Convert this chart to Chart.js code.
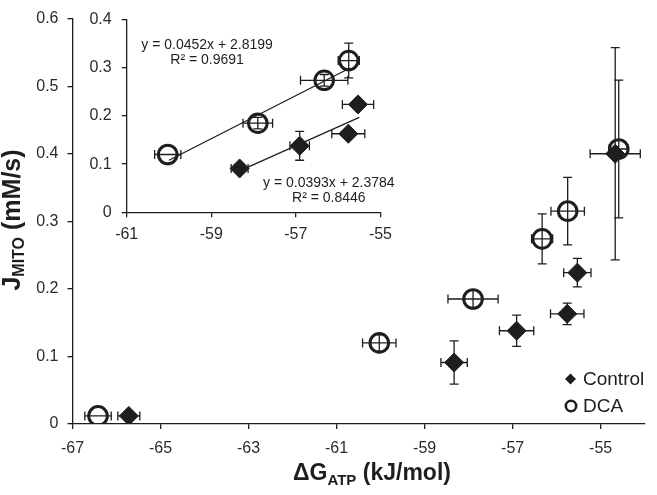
<!DOCTYPE html>
<html>
<head>
<meta charset="utf-8">
<script src="https://cdn.jsdelivr.net/npm/chart.js@4.4.1/dist/chart.umd.min.js"></script>
<style>
  html, body { margin: 0; padding: 0; background: #fff; }
  #wrap { position: relative; width: 657px; height: 495px; }
  #main, #inset { position: absolute; left: 0; top: 0; }
</style>
</head>
<body>
<div id="wrap">
  <canvas id="main" width="657" height="495"></canvas>
  <canvas id="inset" width="400" height="245"></canvas>
</div>
<script>
"use strict";

// tick labels
var xTicks = [-67, -65, -63, -61, -59, -57, -55];
var yTicks = [0, 0.1, 0.2, 0.3, 0.4, 0.5, 0.6];
var insetXTicks = [-61, -59, -57, -55];
var insetYTicks = [0, 0.1, 0.2, 0.3, 0.4];

// Control (filled diamonds)
var controlX = [-65.72, -58.33, -56.91, -55.76, -55.53, -54.67];
var controlY = [0.012, 0.091, 0.138, 0.163, 0.224, 0.400];
var controlXErr = [0.25, 0.30, 0.39, 0.38, 0.31, 0.57];
var controlYErr = [0, 0.032, 0.023, 0.016, 0.021, 0.157];

// DCA (open circles)
var dcaX = [-66.42, -60.03, -57.90, -56.33, -55.75, -54.59];
var dcaY = [0.012, 0.120, 0.185, 0.274, 0.315, 0.407];
var dcaXErr = [0.30, 0.38, 0.57, 0.24, 0.38, 0.22];
var dcaYErr = [0, 0.012, 0.013, 0.037, 0.050, 0.102];

// inset: middle four points of each group, with the error bars it shows
var insetControlXErr = [0.20, 0.23, 0.39, 0.37];
var insetControlYErr = [0, 0.030, 0, 0];
var insetDcaXErr = [0.31, 0.35, 0.56, 0.25];
var insetDcaYErr = [0, 0.012, 0.012, 0.036];

// fitted lines in the inset
var fitDcaX = [-60.0, -55.73];
var fitDcaY = [0.108, 0.299];
var fitControlX = [-58.33, -55.5];
var fitControlY = [0.086, 0.197];

var ink = '#1e1e1e';
Chart.defaults.font.family = '"Liberation Sans", Arial, sans-serif';
Chart.defaults.color = '#2b2b2b';

function points(xs, ys) {
	return xs.map((x, i) => ({x: x, y: ys[i]}));
}

function controlSet(xs, ys, ex, ey) {
	return {
		label: 'Control', data: points(xs, ys), errX: ex, errY: ey,
		pointStyle: 'rectRot', pointRadius: 9.5, borderWidth: 1,
		backgroundColor: ink, borderColor: ink
	};
}

function dcaSet(xs, ys, ex, ey) {
	return {
		label: 'DCA', data: points(xs, ys), errX: ex, errY: ey,
		pointStyle: 'circle', pointRadius: 9.3, borderWidth: 3,
		backgroundColor: 'rgba(0,0,0,0)', borderColor: ink
	};
}

function fitSet(xs, ys) {
	return {
		data: points(xs, ys), showLine: true, pointRadius: 0,
		borderColor: ink, borderWidth: 1.3
	};
}

var errorBars = {
	id: 'errorBars',
	beforeDatasetsDraw(chart) {
		var ctx = chart.ctx, sx = chart.scales.x, sy = chart.scales.y, cap = 4.5;
		ctx.save();
		ctx.strokeStyle = ink;
		ctx.lineWidth = 1.3;
		chart.data.datasets.forEach(ds => {
			if (!ds.errX) return;
			ds.data.forEach((p, i) => {
				var px = sx.getPixelForValue(p.x), py = sy.getPixelForValue(p.y);
				ctx.beginPath();
				if (ds.errX[i] > 0) {
					var x0 = sx.getPixelForValue(p.x - ds.errX[i]), x1 = sx.getPixelForValue(p.x + ds.errX[i]);
					ctx.moveTo(x0, py); ctx.lineTo(x1, py);
					ctx.moveTo(x0, py - cap); ctx.lineTo(x0, py + cap);
					ctx.moveTo(x1, py - cap); ctx.lineTo(x1, py + cap);
				}
				if (ds.errY[i] > 0) {
					var y0 = sy.getPixelForValue(p.y - ds.errY[i]), y1 = sy.getPixelForValue(p.y + ds.errY[i]);
					ctx.moveTo(px, y0); ctx.lineTo(px, y1);
					ctx.moveTo(px - cap, y0); ctx.lineTo(px + cap, y0);
					ctx.moveTo(px - cap, y1); ctx.lineTo(px + cap, y1);
				}
				ctx.stroke();
			});
		});
		ctx.restore();
	}
};

// text with a subscript part, centred on x
function drawParts(ctx, parts, x, y) {
	var total = 0;
	parts.forEach(p => { ctx.font = p.font; total += ctx.measureText(p.text).width; });
	var cx = x - total / 2;
	parts.forEach(p => {
		ctx.font = p.font;
		ctx.fillText(p.text, cx, y + p.dy);
		cx += ctx.measureText(p.text).width;
	});
}

var fam = '"Liberation Sans", Arial, sans-serif';

var mainDecor = {
	id: 'mainDecor',
	afterDraw(chart) {
		var ctx = chart.ctx;
		ctx.save();
		ctx.fillStyle = ink;
		ctx.textAlign = 'left';
		ctx.textBaseline = 'alphabetic';
		drawParts(ctx, [
			{text: '\u0394G', font: 'bold 23px ' + fam, dy: 0},
			{text: 'ATP', font: 'bold 15px ' + fam, dy: 5},
			{text: ' (kJ/mol)', font: 'bold 23px ' + fam, dy: 0}
		], 372, 480);

		ctx.translate(20, 220);
		ctx.rotate(-Math.PI / 2);
		drawParts(ctx, [
			{text: 'J', font: 'bold 25px ' + fam, dy: 0},
			{text: 'MITO', font: 'bold 16px ' + fam, dy: 4},
			{text: ' (mM/s)', font: 'bold 25px ' + fam, dy: 0}
		], 0, 0);
		ctx.restore();

		// legend
		ctx.save();
		ctx.fillStyle = ink;
		ctx.strokeStyle = ink;
		ctx.beginPath();
		ctx.moveTo(565, 379); ctx.lineTo(570.5, 373.5); ctx.lineTo(576, 379); ctx.lineTo(570.5, 384.5);
		ctx.closePath();
		ctx.fill();
		ctx.lineWidth = 2.6;
		ctx.beginPath();
		ctx.arc(571, 406, 5.2, 0, Math.PI * 2);
		ctx.stroke();
		ctx.font = '19px ' + fam;
		ctx.textBaseline = 'middle';
		ctx.fillText('Control', 583, 380);
		ctx.fillText('DCA', 583, 407);
		ctx.restore();
	}
};

var insetDecor = {
	id: 'insetDecor',
	afterDraw(chart) {
		var ctx = chart.ctx, sx = chart.scales.x, sy = chart.scales.y;
		ctx.save();
		ctx.fillStyle = ink;
		ctx.font = '14px ' + fam;
		ctx.textAlign = 'center';
		ctx.textBaseline = 'middle';
		ctx.fillText('y = 0.0452x + 2.8199', sx.getPixelForValue(-59.1), sy.getPixelForValue(0.348));
		ctx.fillText('R\u00b2 = 0.9691', sx.getPixelForValue(-59.1), sy.getPixelForValue(0.315));
		ctx.fillText('y = 0.0393x + 2.3784', sx.getPixelForValue(-56.22), sy.getPixelForValue(0.061));
		ctx.fillText('R\u00b2 = 0.8446', sx.getPixelForValue(-56.22), sy.getPixelForValue(0.029));
		ctx.restore();
	}
};

function axis(min, max, ticks, size, pad, isX) {
	return {
		type: 'linear', min: min, max: max,
		afterBuildTicks: scale => { scale.ticks = ticks.map(v => ({value: v})); },
		afterFit: scale => { if (isX) scale.height = size; else scale.width = size; },
		grid: {drawOnChartArea: false, drawTicks: true, tickLength: 5, color: ink, lineWidth: 1.3},
		border: {display: true, color: ink, width: 1.3},
		ticks: {font: {size: 16}, color: '#2b2b2b', padding: pad, maxRotation: 0, autoSkip: false}
	};
}

function baseOptions(padding, scales) {
	return {
		responsive: false, animation: false, events: [], devicePixelRatio: 1,
		layout: {padding: padding},
		plugins: {legend: {display: false}, tooltip: {enabled: false}},
		scales: scales
	};
}

new Chart(document.getElementById('main'), {
	type: 'scatter',
	data: {
		datasets: [
			controlSet(controlX, controlY, controlXErr, controlYErr),
			dcaSet(dcaX, dcaY, dcaXErr, dcaYErr)
		]
	},
	options: baseOptions({top: 15, right: 0, bottom: 0, left: 0}, {
		x: axis(-67, -54, xTicks, 71, 10, true),
		y: axis(0, 0.6, yTicks, 72.5, 9, false)
	}),
	plugins: [errorBars, mainDecor]
});

new Chart(document.getElementById('inset'), {
	type: 'scatter',
	data: {
		datasets: [
			controlSet(controlX.slice(1, 5), controlY.slice(1, 5), insetControlXErr, insetControlYErr),
			dcaSet(dcaX.slice(1, 5), dcaY.slice(1, 5), insetDcaXErr, insetDcaYErr),
			fitSet(fitDcaX, fitDcaY),
			fitSet(fitControlX, fitControlY)
		]
	},
	options: baseOptions({top: 19, right: 16.7, bottom: 0, left: 0}, {
		x: axis(-61, -55, insetXTicks, 32.7, 8, true),
		y: axis(0, 0.4, insetYTicks, 126.7, 10, false)
	}),
	plugins: [errorBars, insetDecor]
});
</script>
</body>
</html>
